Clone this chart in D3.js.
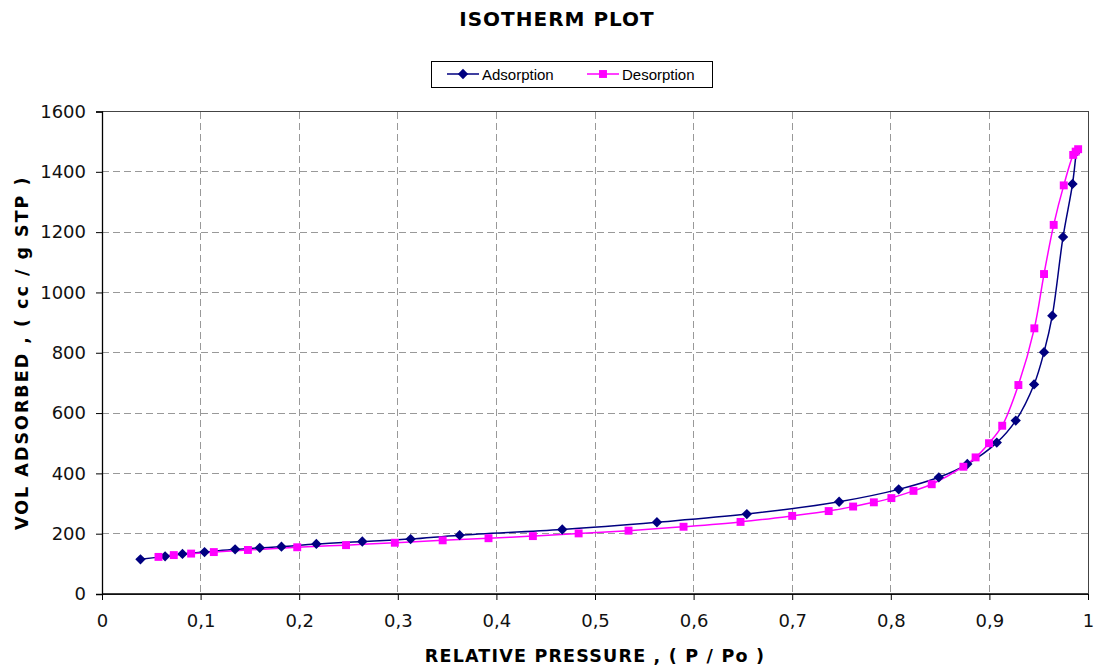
<!DOCTYPE html>
<html><head><meta charset="utf-8">
<script src="https://cdn.jsdelivr.net/npm/d3@7"></script>
<style>body{margin:0;background:#fff}svg{display:block}</style>
</head><body>
<svg id="chart" width="1096" height="668"></svg>
<script>
const title = "ISOTHERM PLOT";
const xLabel = "RELATIVE PRESSURE ,  ( P / Po )";
const yLabel = "VOL ADSORBED ,  ( cc / g STP )";
const seriesNames = ["Adsorption", "Desorption"];
const xTicks = [0,0.1,0.2,0.3,0.4,0.5,0.6,0.7,0.8,0.9,1];
const yTicks = [0,200,400,600,800,1000,1200,1400,1600];

const adsP = [0.039,0.064,0.0816,0.104,0.135,0.160,0.182,0.2174,0.264,0.313,0.3627,0.4668,0.5628,0.654,0.7476,0.808,0.8487,0.8776,0.9075,0.9267,0.9453,0.9554,0.9638,0.9747,0.9843,0.988];
const adsV = [115,125,133,139,148,153,157,166,174,182,195,214,238,265,306,347,387,431,502,575,695,802,923,1184,1360,1466];
const desP = [0.990,0.9875,0.985,0.9754,0.9652,0.9554,0.9456,0.9294,0.913,0.8996,0.886,0.8736,0.8415,0.823,0.8006,0.7828,0.7618,0.737,0.700,0.6476,0.5898,0.534,0.4834,0.437,0.392,0.3455,0.297,0.2475,0.198,0.148,0.1134,0.0904,0.0728,0.0573];
const desV = [1475,1467,1456,1355,1224,1061,881,693,558,500,453,422,364,342,318,304,290,275,259,239,223,210,201,192,185,178,170,162,155,146,139,134,129,123];

const svg = d3.select("#chart");
const L = 102, R = 1088, T = 111.5, B = 594;
const x = d3.scaleLinear().domain([0,1]).range([L,R]);
const y = d3.scaleLinear().domain([0,1600]).range([B,T]);
const fmtX = d => d === 0 ? "0" : d === 1 ? "1" : String(d).replace(".", ",");
const fmtY = d => String(d);
const FONT = "'DejaVu Sans', Verdana, sans-serif";

// grid
svg.append("g").selectAll("line").data(xTicks.filter(d => d > 0 && d < 1)).join("line")
  .attr("x1", d => x(d)).attr("x2", d => x(d)).attr("y1", T).attr("y2", B)
  .attr("stroke", "#999").attr("stroke-dasharray", "7,4").attr("shape-rendering","crispEdges");
svg.append("g").selectAll("line").data(yTicks.filter(d => d > 0 && d < 1600)).join("line")
  .attr("y1", d => y(d)).attr("y2", d => y(d)).attr("x1", L).attr("x2", R)
  .attr("stroke", "#999").attr("stroke-dasharray", "7,4").attr("shape-rendering","crispEdges");

// frame
svg.append("rect").attr("x", L).attr("y", T).attr("width", R-L).attr("height", B-T)
  .attr("fill","none").attr("stroke","#444").attr("shape-rendering","crispEdges");

// axes
const xAxis = d3.axisBottom(x).tickValues(xTicks).tickFormat(fmtX).tickSize(6).tickPadding(14);
const gx = svg.append("g").attr("transform", `translate(0,${B})`).call(xAxis);
const yAxis = d3.axisLeft(y).tickValues(yTicks).tickFormat(fmtY).tickSize(6).tickPadding(10);
const gy = svg.append("g").attr("transform", `translate(${L},0)`).call(yAxis);
[gx, gy].forEach(g => {
  g.select(".domain").attr("stroke","#000").attr("stroke-width",1.3);
  g.selectAll(".tick line").attr("stroke","#000");
  g.selectAll("text").attr("font-family",FONT).attr("font-size",18).attr("fill","#111");
});
gx.select(".domain").attr("d", `M${L},0H${R}`);

// lines
const ads = adsP.map((p,i) => [p, adsV[i]]);
const des = desP.map((p,i) => [p, desV[i]]);
const line = d3.line().x(d => x(d[0])).y(d => y(d[1])).curve(d3.curveCatmullRom.alpha(0.5));
svg.append("path").datum(ads).attr("d", line).attr("fill","none").attr("stroke","#000080").attr("stroke-width",1.5);
svg.append("path").datum(des).attr("d", line).attr("fill","none").attr("stroke","#FF00FF").attr("stroke-width",1.5);

const diamond = d3.symbol().type(d3.symbolDiamond2).size(68);
const square = d3.symbol().type(d3.symbolSquare2).size(80);
svg.append("g").selectAll("path").data(ads).join("path")
  .attr("transform", d => `translate(${x(d[0])},${y(d[1])})`).attr("d", diamond).attr("fill","#000080");
svg.append("g").selectAll("path").data(des).join("path")
  .attr("transform", d => `translate(${x(d[0])},${y(d[1])})`).attr("d", square).attr("fill","#FF00FF");

// title
svg.append("text").attr("x", 557).attr("y", 26).attr("text-anchor","middle")
  .attr("font-family",FONT).attr("font-weight","bold").attr("font-size",20).attr("letter-spacing",1).text(title);

// axis labels
svg.append("text").attr("x", 595).attr("y", 662).attr("text-anchor","middle")
  .attr("font-family",FONT).attr("font-weight","bold").attr("font-size",17.5).attr("letter-spacing",1.2).text(xLabel);
svg.append("text").attr("transform", `translate(28,${(T+B)/2}) rotate(-90)`).attr("text-anchor","middle")
  .attr("font-family",FONT).attr("font-weight","bold").attr("font-size",17.5).attr("letter-spacing",2).text(yLabel);

// legend
const lg = svg.append("g");
lg.append("rect").attr("x",431).attr("y",61).attr("width",281).attr("height",26)
  .attr("fill","#fff").attr("stroke","#000").attr("shape-rendering","crispEdges");
const items = [{name: seriesNames[0], color:"#000080", sym: diamond, x0: 447},
               {name: seriesNames[1], color:"#FF00FF", sym: square, x0: 587}];
items.forEach(it => {
  lg.append("line").attr("x1", it.x0).attr("x2", it.x0+32).attr("y1",74).attr("y2",74).attr("stroke",it.color).attr("stroke-width",1.5);
  lg.append("path").attr("transform",`translate(${it.x0+16},74)`).attr("d", it.sym).attr("fill", it.color);
  lg.append("text").attr("x", it.x0+35).attr("y", 79.5).attr("font-family","'Liberation Sans', Arial, sans-serif")
    .attr("font-size",15).text(it.name);
});
</script>
</body></html>
